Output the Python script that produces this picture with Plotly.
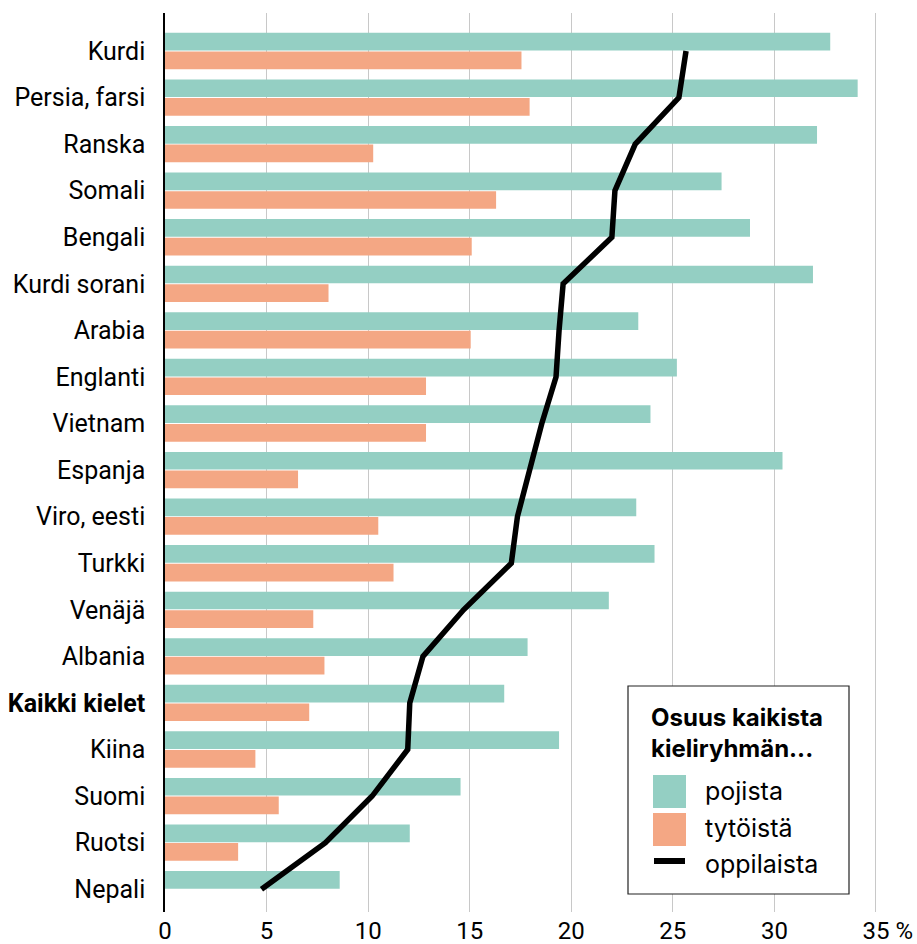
import plotly.graph_objects as go

categories = ["Kurdi", "Persia, farsi", "Ranska", "Somali", "Bengali", "Kurdi sorani",
              "Arabia", "Englanti", "Vietnam", "Espanja", "Viro, eesti", "Turkki",
              "Venäjä", "Albania", "Kaikki kielet", "Kiina", "Suomi", "Ruotsi", "Nepali"]
category_labels = [("<b>%s</b>" % c if c == "Kaikki kielet" else c) for c in categories]

pojista = [32.75, 34.1, 32.1, 27.4, 28.8, 31.9, 23.3, 25.2, 23.9, 30.4, 23.2, 24.1,
           21.85, 17.85, 16.7, 19.4, 14.55, 12.05, 8.6]
tytoista = [17.55, 17.95, 10.25, 16.3, 15.1, 8.05, 15.05, 12.85, 12.85, 6.55, 10.5, 11.25,
            7.3, 7.85, 7.1, 4.45, 5.6, 3.6, None]
oppilaista = [25.65, 25.3, 23.15, 22.15, 22.0, 19.6, 19.4, 19.25, 18.55, 17.95, 17.35, 17.05,
              14.7, 12.7, 12.05, 11.95, 10.2, 7.9, 4.75]

x_ticks = [0, 5, 10, 15, 20, 25, 30, 35]
x_tick_labels = ["0", "5", "10", "15", "20", "25", "30", "&nbsp;&nbsp;&nbsp;&nbsp;35 %"]

GREEN = "#94cfc3"
ORANGE = "#f4a784"
LABEL_FONT = "Roboto, Liberation Sans, sans-serif"
LEGEND_FONT = "Inter, Noto Sans, sans-serif"

W, H = 917, 944
pl, pr, pt, pb = 165, 37, 13, 32
pw, ph = W - pl - pr, H - pt - pb

fig = go.Figure()
fig.add_trace(go.Bar(x=pojista, y=categories, orientation="h", name="pojista",
                     marker=dict(color=GREEN, line=dict(width=0))))
fig.add_trace(go.Bar(x=tytoista, y=categories, orientation="h", name="tytöistä",
                     marker=dict(color=ORANGE, line=dict(width=0))))
fig.add_trace(go.Scatter(x=oppilaista, y=categories, mode="lines", name="oppilaista",
                         line=dict(color="black", width=5.5)))

fig.update_layout(
    width=W, height=H,
    margin=dict(l=pl, r=pr, t=pt, b=pb),
    paper_bgcolor="white", plot_bgcolor="white",
    barmode="group", bargap=0.2, bargroupgap=0.05,
    showlegend=False,
    font=dict(family=LABEL_FONT, color="black", size=24),
)
fig.update_xaxes(
    range=[0, 35.2], tickvals=x_ticks, ticktext=x_tick_labels,
    showgrid=True, gridcolor="#c8c8c8", gridwidth=1,
    zeroline=False, showline=False, ticks="", automargin=False,
    ticklabelstandoff=2,
    tickfont=dict(family=LABEL_FONT, size=24, color="black"),
)
fig.update_yaxes(
    type="category", categoryorder="array", categoryarray=categories,
    tickvals=categories, ticktext=category_labels,
    range=[18.49, -0.816],
    showgrid=False, zeroline=False, automargin=False,
    showline=True, linecolor="black", linewidth=1.5,
    ticks="", ticklabelstandoff=13,
    tickfont=dict(family=LABEL_FONT, size=25, color="black"),
)

def px(xp):
    return (xp - pl) / pw

def py(yp):
    return (H - pb - yp) / ph

# Legend box (paper coordinates from pixel positions)
fig.add_shape(type="rect", xref="paper", yref="paper",
              x0=px(628), x1=px(849), y0=py(894), y1=py(686),
              line=dict(color="#222222", width=1.2), fillcolor="white", layer="above")
fig.add_annotation(xref="paper", yref="paper", x=px(649), y=py(733), xanchor="left", yanchor="middle",
                   text="<b>Osuus kaikista<br>kieliryhmän...</b>", showarrow=False, align="left",
                   font=dict(family=LEGEND_FONT, size=24, color="black"))
fig.add_shape(type="rect", xref="paper", yref="paper",
              x0=px(653), x1=px(686), y0=py(808), y1=py(775),
              line=dict(width=0), fillcolor=GREEN, layer="above")
fig.add_shape(type="rect", xref="paper", yref="paper",
              x0=px(653), x1=px(686), y0=py(846), y1=py(813),
              line=dict(width=0), fillcolor=ORANGE, layer="above")
fig.add_shape(type="line", xref="paper", yref="paper",
              x0=px(654), x1=px(685), y0=py(861), y1=py(861),
              line=dict(color="black", width=6), layer="above")
for label, yc in [("pojista", 791), ("tytöistä", 828), ("oppilaista", 864)]:
    fig.add_annotation(xref="paper", yref="paper", x=px(703), y=py(yc), xanchor="left", yanchor="middle",
                       text=label, showarrow=False,
                       font=dict(family=LEGEND_FONT, size=25, color="black"))

fig.write_html("out.html", config={"displayModeBar": False},
               post_script="document.body.style.margin='0px';")
